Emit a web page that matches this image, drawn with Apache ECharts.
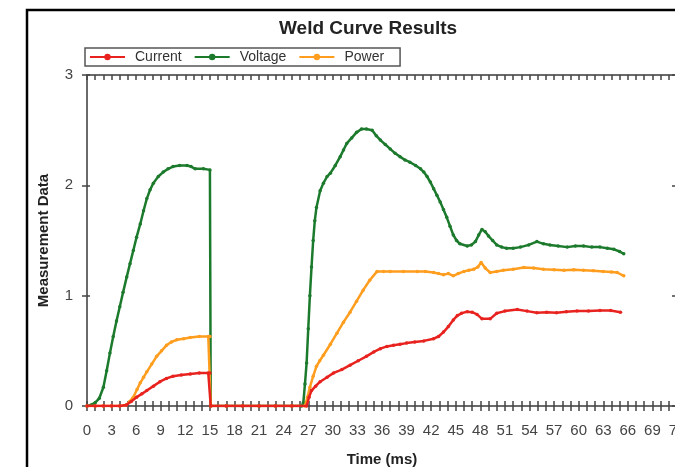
<!DOCTYPE html>
<html>
<head>
<meta charset="utf-8">
<script src="https://cdn.jsdelivr.net/npm/echarts@6/dist/echarts.min.js"></script>
<style>
  html, body { margin: 0; padding: 0; background: #fff; }
  #ech { width: 675px; height: 467px; }
</style>
</head>
<body>
<div id="ech"></div>
<script>
// 读图得到的数据 [时间(ms), 数值]
var currentData = [
  [0,0],[1,0],[2,0],[3,0],[4,0],[4.8,0.01],[5.4,0.04],[6.05,0.08],[6.7,0.11],[7.3,0.14],
  [8.1,0.18],[8.9,0.22],[9.7,0.25],[10.5,0.27],[11.5,0.28],[12.6,0.29],[13.7,0.3],[14.8,0.3],
  [15,0.3],[15.1,0],[17,0],[19,0],[21,0],[23,0],[25,0],[26.8,0],[27.1,0.08],[27.4,0.14],[27.9,0.18],
  [28.45,0.22],[29.3,0.26],[30.1,0.3],[31.1,0.33],[32.1,0.37],[33.1,0.41],[34.1,0.45],[35,0.49],
  [35.8,0.52],[36.6,0.54],[37.4,0.55],[38.2,0.56],[39,0.57],[40,0.58],[41.1,0.59],[42.3,0.61],
  [42.9,0.63],[43.5,0.67],[44.1,0.72],[44.7,0.78],[45.2,0.82],[45.7,0.84],[46.4,0.855],[47,0.85],
  [47.6,0.83],[48.2,0.79],[49.2,0.79],[50,0.84],[51,0.86],[52.5,0.875],[53.7,0.86],[54.9,0.845],
  [56.1,0.85],[57.3,0.845],[58.5,0.855],[59.8,0.86],[61.2,0.86],[62.6,0.865],[63.9,0.865],[65.1,0.85]
];
var voltageData = [
  [0,0],[0.5,0.01],[1,0.03],[1.5,0.07],[2,0.17],[2.4,0.32],[2.8,0.48],[3.2,0.63],[3.6,0.77],
  [4,0.9],[4.4,1.03],[4.85,1.17],[5.25,1.29],[5.65,1.41],[6.05,1.53],[6.5,1.65],[6.9,1.77],
  [7.3,1.88],[7.7,1.96],[8.1,2.02],[8.7,2.08],[9.3,2.12],[9.9,2.15],[10.5,2.17],[11.3,2.18],
  [12.2,2.18],[12.7,2.17],[13.2,2.15],[14.2,2.15],[15,2.14],[15.1,0],[17,0],[19,0],[21,0],[23,0],
  [25,0],[26.2,0],[26.4,0.03],[26.6,0.2],[26.8,0.39],[27,0.7],[27.2,1.0],[27.4,1.26],[27.6,1.5],
  [27.8,1.68],[28,1.8],[28.45,1.95],[28.85,2.02],[29.3,2.08],[29.7,2.11],[30.3,2.18],[30.9,2.26],
  [31.3,2.32],[31.7,2.38],[32.3,2.43],[32.9,2.48],[33.5,2.51],[34.1,2.51],[34.8,2.5],[35.3,2.45],
  [35.8,2.41],[36.4,2.37],[37,2.33],[37.6,2.29],[38.2,2.26],[38.8,2.23],[39.4,2.21],[40.1,2.18],
  [40.7,2.15],[41.1,2.12],[41.5,2.08],[41.9,2.03],[42.3,1.97],[42.7,1.91],[43.1,1.85],[43.5,1.78],
  [43.9,1.71],[44.3,1.63],[44.7,1.55],[45.1,1.5],[45.5,1.47],[46.4,1.45],[46.9,1.46],[47.4,1.49],
  [47.8,1.55],[48.2,1.6],[48.6,1.58],[49,1.54],[49.5,1.5],[50,1.46],[50.6,1.44],[51.2,1.43],
  [52,1.43],[52.9,1.44],[53.9,1.46],[54.9,1.49],[55.7,1.47],[56.5,1.46],[57.5,1.45],[58.6,1.44],
  [59.6,1.45],[60.6,1.45],[61.6,1.44],[62.6,1.44],[63.5,1.43],[64.3,1.42],[65,1.4],[65.5,1.38]
];
var powerData = [
  [0,0],[1,0],[2,0],[3,0],[4,0],[4.8,0.01],[5.2,0.04],[5.65,0.08],[6.1,0.15],[6.5,0.21],[6.9,0.26],
  [7.3,0.31],[7.9,0.38],[8.5,0.45],[9.1,0.5],[9.7,0.55],[10.3,0.58],[10.95,0.6],[11.8,0.61],
  [12.6,0.62],[13.7,0.63],[14.8,0.63],[15,0.63],[15.1,0],[17,0],[19,0],[21,0],[23,0],[25,0],
  [26.6,0],[26.9,0.08],[27.2,0.17],[27.6,0.27],[28,0.36],[28.4,0.41],[28.85,0.46],[29.7,0.56],
  [30.5,0.66],[31.3,0.76],[32.1,0.85],[32.9,0.95],[33.7,1.05],[34.5,1.14],[35.4,1.22],[36.2,1.22],
  [37,1.22],[38.6,1.22],[40.3,1.22],[41.3,1.22],[42.3,1.21],[42.9,1.2],[43.5,1.19],[44.1,1.2],
  [44.7,1.18],[45.3,1.2],[46,1.22],[46.6,1.23],[47.2,1.24],[47.7,1.26],[48.1,1.3],[48.6,1.25],
  [49.2,1.21],[50,1.22],[50.8,1.23],[52,1.24],[53.3,1.255],[54.5,1.25],[55.7,1.24],[57,1.235],
  [58.2,1.23],[59.4,1.235],[60.6,1.23],[61.8,1.225],[63,1.22],[64,1.215],[64.7,1.21],[65.5,1.18]
];
var seriesNames = ['Current', 'Voltage', 'Power'];

var ownChart = echarts.init(document.getElementById('ech'));
var axisGray = '#6a6a6a';
var tickGray = '#444';
var font = 'Liberation Sans';

function line(name, data, color, z) {
  return {
    name: name,
    type: 'line',
    data: data,
    xAxisIndex: 0,
    yAxisIndex: 0,
    symbol: 'circle',
    symbolSize: 3.5,
    z: z,
    lineStyle: { color: color, width: 2.5 },
    itemStyle: { color: color },
    animation: false
  };
}

var tickStyle = { color: tickGray, width: 1.5 };

var option = {
  backgroundColor: '#fff',
  textStyle: { fontFamily: font },
  title: {
    text: 'Weld Curve Results',
    left: 274,
    top: 14,
    textStyle: { fontSize: 19, fontWeight: 'bold', color: '#222', fontFamily: font }
  },
  legend: {
    data: seriesNames,
    left: 85,
    top: 48,
    padding: [2, 16, 2, 4],
    itemGap: 12,
    itemWidth: 35,
    itemHeight: 8,
    borderColor: '#555',
    borderWidth: 1.5,
    formatter: function (name) { return '{t|' + name + '}'; },
    textStyle: {
      fontSize: 14, color: '#333', fontFamily: font,
      rich: { t: { fontSize: 14, color: '#333', fontFamily: font, padding: [0, 0, 0, 5] } }
    }
  },
  grid: { left: 87, top: 75, width: 590, height: 331, outerBoundsMode: 'none' },
  xAxis: [
    { // 下方主轴，带标签
      type: 'value', position: 'bottom', min: 0, max: 72, interval: 3,
      name: 'Time (ms)', nameLocation: 'middle', nameGap: 46,
      nameTextStyle: { fontSize: 15, fontWeight: 'bold', color: '#222' },
      axisLine: { onZero: false, lineStyle: { color: axisGray, width: 2 } },
      axisTick: { length: 5, lineStyle: tickStyle },
      minorTick: { show: true, splitNumber: 3, length: 5, lineStyle: tickStyle },
      axisLabel: { margin: 17, fontSize: 15, color: '#444' },
      splitLine: { show: false }
    },
    { // 向内的刻度
      type: 'value', position: 'bottom', offset: 0, min: 0, max: 72, interval: 3,
      axisLine: { show: false, onZero: false },
      axisTick: { inside: true, length: 5, lineStyle: tickStyle },
      minorTick: { show: true, splitNumber: 3, length: 5, lineStyle: tickStyle },
      axisLabel: { show: false },
      splitLine: { show: false }
    },
    { // 顶部
      type: 'value', position: 'top', offset: 0, min: 0, max: 72, interval: 3,
      axisLine: { onZero: false, lineStyle: { color: axisGray, width: 2 } },
      axisTick: { inside: true, length: 5, lineStyle: tickStyle },
      minorTick: { show: true, splitNumber: 3, length: 5, lineStyle: tickStyle },
      axisLabel: { show: false },
      splitLine: { show: false }
    }
  ],
  yAxis: [
    {
      type: 'value', position: 'left', min: 0, max: 3, interval: 1,
      name: 'Measurement Data', nameLocation: 'middle', nameGap: 36,
      nameTextStyle: { fontSize: 15, fontWeight: 'bold', color: '#222' },
      axisLine: { show: true, onZero: false, lineStyle: { color: axisGray, width: 2 } },
      axisTick: { show: true, length: 5, lineStyle: tickStyle },
      axisLabel: { margin: 14, fontSize: 15, color: '#444' },
      splitLine: { show: false }
    },
    {
      type: 'value', position: 'right', offset: 0, min: 0, max: 3, interval: 1,
      axisLine: { show: true, onZero: false, lineStyle: { color: axisGray, width: 2 } },
      axisTick: { show: true, inside: true, length: 5, lineStyle: tickStyle },
      axisLabel: { show: false },
      splitLine: { show: false }
    },
    {
      type: 'value', position: 'left', offset: 0, min: 0, max: 3, interval: 1,
      axisLine: { show: false, onZero: false },
      axisTick: { show: true, inside: true, length: 3, lineStyle: tickStyle },
      axisLabel: { show: false },
      splitLine: { show: false }
    }
  ],
  graphic: [{
    type: 'rect',
    shape: { x: 27, y: 10, width: 720, height: 520 },
    style: { fill: null, stroke: '#000', lineWidth: 2.5 },
    silent: true
  }],
  series: [
    line(seriesNames[0], currentData, '#e8231f', 5),
    line(seriesNames[1], voltageData, '#1c7a2c', 3),
    line(seriesNames[2], powerData, '#ff9d1e', 4)
  ]
};

//使用制定的配置项和数据显示图表
ownChart.setOption(option);
</script>
</body>
</html>
